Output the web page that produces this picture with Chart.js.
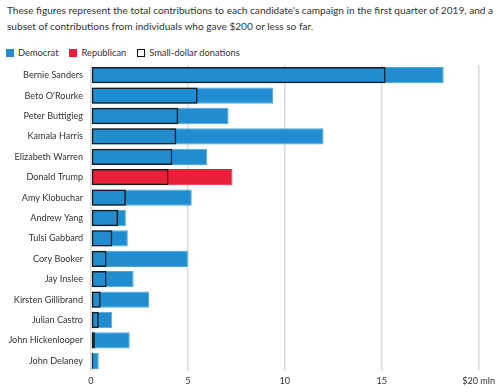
<!DOCTYPE html>
<html>
<head>
<meta charset="utf-8">
<script src="https://cdn.jsdelivr.net/npm/chart.js@4/dist/chart.umd.min.js"></script>
<style>
  body { margin: 0; width: 500px; height: 392px; background: #fff; font-family: Lato, sans-serif; color: #333; overflow: hidden; }
  #intro { position: absolute; left: 7px; top: 2px; width: 493px; line-height: 16px; white-space: nowrap; }
  #legend { position: absolute; left: 6px; top: 46px; line-height: 14px; display: flex; }
  #legend span.item { display: flex; align-items: center; margin-right: 11px; }
  #legend i { display: inline-block; width: 8px; height: 8px; margin-right: 4px; box-sizing: border-box; }
  #wrap { position: absolute; left: 0; top: 58px; width: 500px; height: 334px; }
</style>
</head>
<body>
<div id="intro"><span id="line1">These figures represent the total contributions to each candidate's campaign in the first quarter of 2019, and a</span><br>subset of contributions from individuals who gave $200 or less so far.</div>
<div id="legend">
  <span class="item"><i style="background:#1f8dd0"></i>Democrat</span>
  <span class="item"><i style="background:#e8203a"></i>Republican</span>
  <span class="item"><i style="border:1.5px solid #111"></i><span id="sd">Small-dollar donations</span></span>
</div>
<div id="wrap"><canvas id="chart" width="500" height="334"></canvas></div>
<script>
// DATA ($ mln)
const candidates = ["Bernie Sanders", "Beto O'Rourke", "Peter Buttigieg", "Kamala Harris", "Elizabeth Warren",
  "Donald Trump", "Amy Klobuchar", "Andrew Yang", "Tulsi Gabbard", "Cory Booker", "Jay Inslee",
  "Kirsten Gillibrand", "Julian Castro", "John Hickenlooper", "John Delaney"];
const parties = ["D", "D", "D", "D", "D", "R", "D", "D", "D", "D", "D", "D", "D", "D", "D"];
const totalRaised = [18.2, 9.4, 7.1, 12.0, 6.0, 7.3, 5.2, 1.8, 1.9, 5.0, 2.2, 3.0, 1.1, 2.0, 0.4];
const smallDollar = [15.2, 5.5, 4.5, 4.4, 4.2, 4.0, 1.8, 1.4, 1.1, 0.8, 0.8, 0.5, 0.4, 0.2, 0.1];
const xTicks = [0, 5, 10, 15, 20];

const BLUE = "#1f8dd0";
const RED = "#e8203a";
const FONT = "Lato";

// the original uses a narrower face, so size text by its width in the picture
const meas = document.createElement("canvas").getContext("2d");
function fitSize(text, width) {
  meas.font = "100px " + FONT;
  return Math.round(100 * width / meas.measureText(text).width * 10) / 10;
}
const titleSize = fitSize(document.getElementById("line1").textContent, 489);
document.getElementById("intro").style.fontSize = titleSize + "px";
document.getElementById("legend").style.fontSize = fitSize("Small-dollar donations", 91) + "px";
const labelSize = fitSize("John Hickenlooper", 75);

const ctx = document.getElementById("chart");

new Chart(ctx, {
  type: "bar",
  data: {
    labels: candidates,
    datasets: [
      {
        label: "Small-dollar donations",
        data: smallDollar,
        backgroundColor: "rgba(0,0,0,0)",
        borderColor: "#1a1a1a",
        borderWidth: 1.5,
        borderSkipped: false,
        grouped: false,
        order: 0,
        categoryPercentage: 1,
        barPercentage: 0.8
      },
      {
        label: "Total",
        data: totalRaised,
        backgroundColor: parties.map(p => p === "R" ? RED : BLUE),
        borderColor: parties.map(p => p === "R" ? RED : "#4aa6dc"),
        borderWidth: 1,
        grouped: false,
        order: 1,
        categoryPercentage: 1,
        barPercentage: 0.8
      }
    ]
  },
  options: {
    indexAxis: "y",
    responsive: false,
    animation: false,
    layout: { padding: { top: 7, right: 19, bottom: 0, left: 0 } },
    plugins: {
      legend: { display: false },
      tooltip: { enabled: false }
    },
    scales: {
      x: {
        min: 0,
        max: 20,
        afterBuildTicks: axis => { axis.ticks = xTicks.map(v => ({ value: v })); },
        afterFit: axis => { axis.height = 21; },
        grid: { color: "#d9d9d9", lineWidth: 1.5, drawTicks: false },
        border: { display: false },
        ticks: {
          padding: 5,
          color: "#333",
          maxRotation: 0,
          font: { family: FONT, size: labelSize },
          callback: v => v === 20 ? "$20 mln" : String(v)
        }
      },
      y: {
        grid: { display: false, drawTicks: false },
        border: { display: false },
        afterFit: axis => {
          axis.width = 91;
          axis.paddingTop = 0;
          axis.paddingBottom = 0;
        },
        ticks: {
          padding: 8,
          color: "#333",
          font: { family: FONT, size: labelSize }
        }
      }
    }
  }
});
</script>
</body>
</html>
